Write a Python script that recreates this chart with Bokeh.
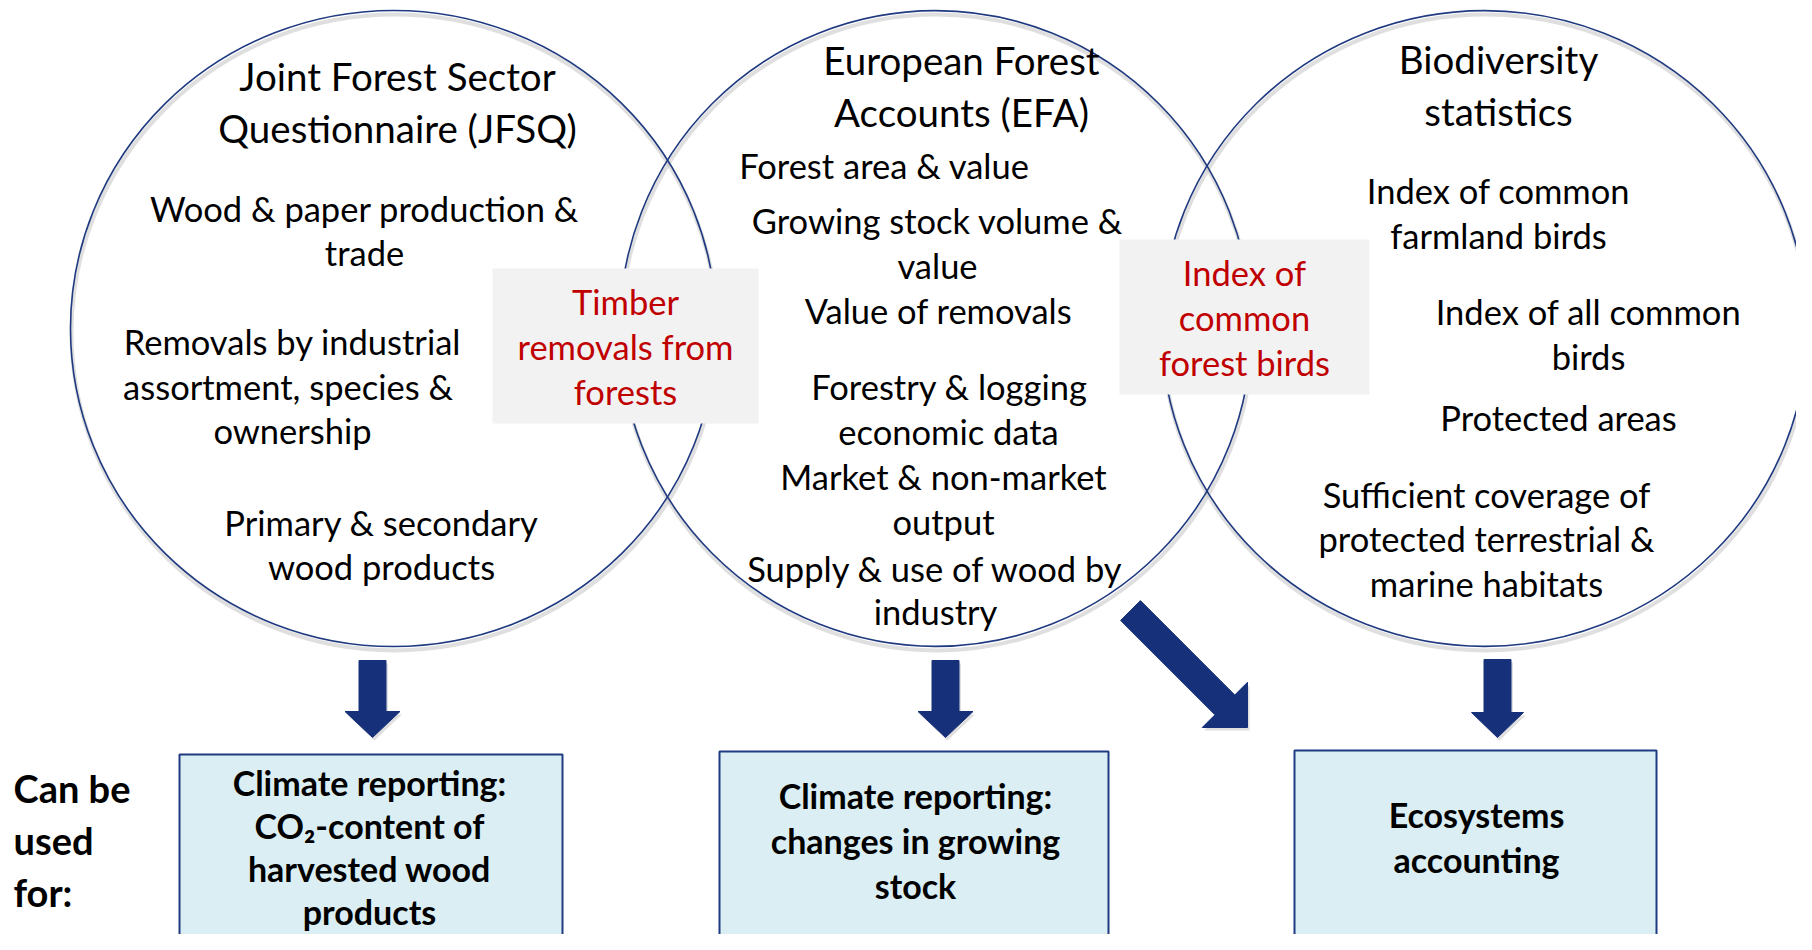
import math
from bokeh.plotting import figure
from bokeh.models import Range1d
from bokeh.core.properties import value
from bokeh.embed import file_html
from bokeh.resources import INLINE

# ---------------- data ----------------
circle_names = ["JFSQ", "EFA", "Biodiversity"]
circle_x = [393, 935, 1484]
circle_y = [328, 328, 328]
circle_w = [646, 632, 646]
circle_h = [636, 636, 636]

title_text = ["Joint Forest Sector", "Questionnaire (JFSQ)",
              "European Forest", "Accounts (EFA)",
              "Biodiversity", "statistics"]
title_x = [397, 397, 961, 961, 1498, 1498]
title_y = [75, 127, 59, 111, 58, 110]

item_text = ["Wood & paper production &", "trade",
             "Removals by industrial", "assortment,  species &", "ownership",
             "Primary & secondary", "wood products",
             "Forest area & value",
             "Growing stock volume &", "value",
             "Value of removals",
             "Forestry & logging", "economic data",
             "Market & non-market", "output",
             "Supply & use of wood by", "industry",
             "Index of common", "farmland birds",
             "Index of all common", "birds",
             "Protected areas",
             "Sufficient coverage of", "protected terrestrial &", "marine habitats"]
item_x = [364, 364, 292, 292, 292, 381, 381,
          884, 937, 937, 938, 949, 948, 943, 943, 935, 935,
          1498, 1498, 1588, 1588, 1558, 1486, 1486, 1486]
item_y = [208, 252, 341, 386, 430, 522, 566,
          165, 220, 265, 310, 386, 431, 476, 521, 568, 611,
          190, 235, 311, 356, 417, 494, 538, 583]

overlap_left = [492, 1119]
overlap_right = [758, 1369]
overlap_top = [268, 239]
overlap_bottom = [423, 394]
overlap_text = ["Timber", "removals from", "forests",
                "Index of", "common", "forest birds"]
overlap_x = [625, 625, 625, 1244, 1244, 1244]
overlap_y = [301, 346, 391, 272, 317, 362]

use_left = [179, 719, 1294]
use_right = [562, 1108, 1656]
use_top = [754, 751, 750]
use_bottom = [975, 948, 947]
use_text = ["Climate reporting:", "CO\u2082-content of", "harvested wood", "products",
            "Climate reporting:", "changes in growing", "stock",
            "Ecosystems", "accounting"]
use_x = [369, 369, 369, 369, 915, 915, 915, 1476, 1476]
use_y = [782, 825, 868, 911, 795, 840, 885, 814, 859]

side_text = ["Can be", "used", "for:"]
side_x = [13, 13, 13]
side_y = [787, 839, 891]

# arrows: tail point, tip point, shaft half width, head half width, head length
arrow_tail = [(372, 660), (945, 660), (1497, 659), (1130, 610)]
arrow_tip = [(372, 737), (945, 737), (1497, 737), (1247, 727)]
arrow_shaft_hw = [13.5, 13.5, 13.5, 14]
arrow_head_hw = [27.5, 27.5, 26, 32]
arrow_head_len = [26, 26, 25, 32]

NAVY = "#1F3A80"
ARROW = "#16307A"
FONT = "Lato"


def arrow_shape(tail, tip, shw, hhw, hl):
    dx, dy = tip[0] - tail[0], tip[1] - tail[1]
    L = math.hypot(dx, dy)
    ux, uy = dx / L, dy / L
    nx, ny = -uy, ux
    bx, by = tip[0] - ux * hl, tip[1] - uy * hl
    pts = [
        (tail[0] + nx * shw, tail[1] + ny * shw),
        (bx + nx * shw, by + ny * shw),
        (bx + nx * hhw, by + ny * hhw),
        tip,
        (bx - nx * hhw, by - ny * hhw),
        (bx - nx * shw, by - ny * shw),
        (tail[0] - nx * shw, tail[1] - ny * shw),
    ]
    return [q[0] for q in pts], [q[1] for q in pts]


W, H = 1796, 934
p = figure(width=W, height=H, x_range=Range1d(0, W), y_range=Range1d(H, 0),
           output_backend="svg", toolbar_location=None, min_border=0,
           x_axis_location=None, y_axis_location=None)
p.grid.visible = False
p.outline_line_color = None
p.background_fill_color = "white"
p.border_fill_color = "white"

# circle shadows and circles
p.ellipse(x=[x + 1 for x in circle_x], y=[y + 4 for y in circle_y], width=circle_w, height=circle_h,
          fill_color=None, line_color="#BFBFBF", line_alpha=0.5, line_width=4)
p.ellipse(x=circle_x, y=circle_y, width=circle_w, height=circle_h,
          fill_color=None, line_color=NAVY, line_width=1.6)

# overlap boxes
p.quad(left=overlap_left, right=overlap_right, top=overlap_top, bottom=overlap_bottom,
       fill_color="#F2F2F2", line_color=None)

# arrows
axs, ays = [], []
for t, tp, s, h, l in zip(arrow_tail, arrow_tip, arrow_shaft_hw, arrow_head_hw, arrow_head_len):
    xs, ys = arrow_shape(t, tp, s, h, l)
    axs.append(xs)
    ays.append(ys)
p.patches(xs=[[x + 2 for x in xs] for xs in axs], ys=[[y + 3 for y in ys] for ys in ays],
          fill_color="#BFBFBF", fill_alpha=0.5, line_color=None)
p.patches(xs=axs, ys=ays, fill_color=ARROW, line_color=ARROW, line_width=1)

# use boxes
p.quad(left=use_left, right=use_right, top=use_top, bottom=use_bottom,
       fill_color="#DAEEF3", line_color=NAVY, line_width=2)

# texts
p.text(x=title_x, y=title_y, text=title_text, text_align="center", text_baseline="middle",
       text_font=value(FONT), text_font_size=value("38.5px"), text_color="black")
p.text(x=item_x, y=item_y, text=item_text, text_align="center", text_baseline="middle",
       text_font=value(FONT), text_font_size=value("34.5px"), text_color="black")
p.text(x=overlap_x, y=overlap_y, text=overlap_text, text_align="center", text_baseline="middle",
       text_font=value(FONT), text_font_size=value("34.5px"), text_color="#C00000")
p.text(x=use_x, y=use_y, text=use_text, text_align="center", text_baseline="middle",
       text_font=value(FONT), text_font_size=value("34px"), text_font_style="bold",
       text_color="black")
p.text(x=side_x, y=side_y, text=side_text, text_align="left", text_baseline="middle",
       text_font=value(FONT), text_font_size=value("38px"), text_font_style="bold",
       text_color="black")

open("out.html", "w").write(file_html(p, INLINE))
